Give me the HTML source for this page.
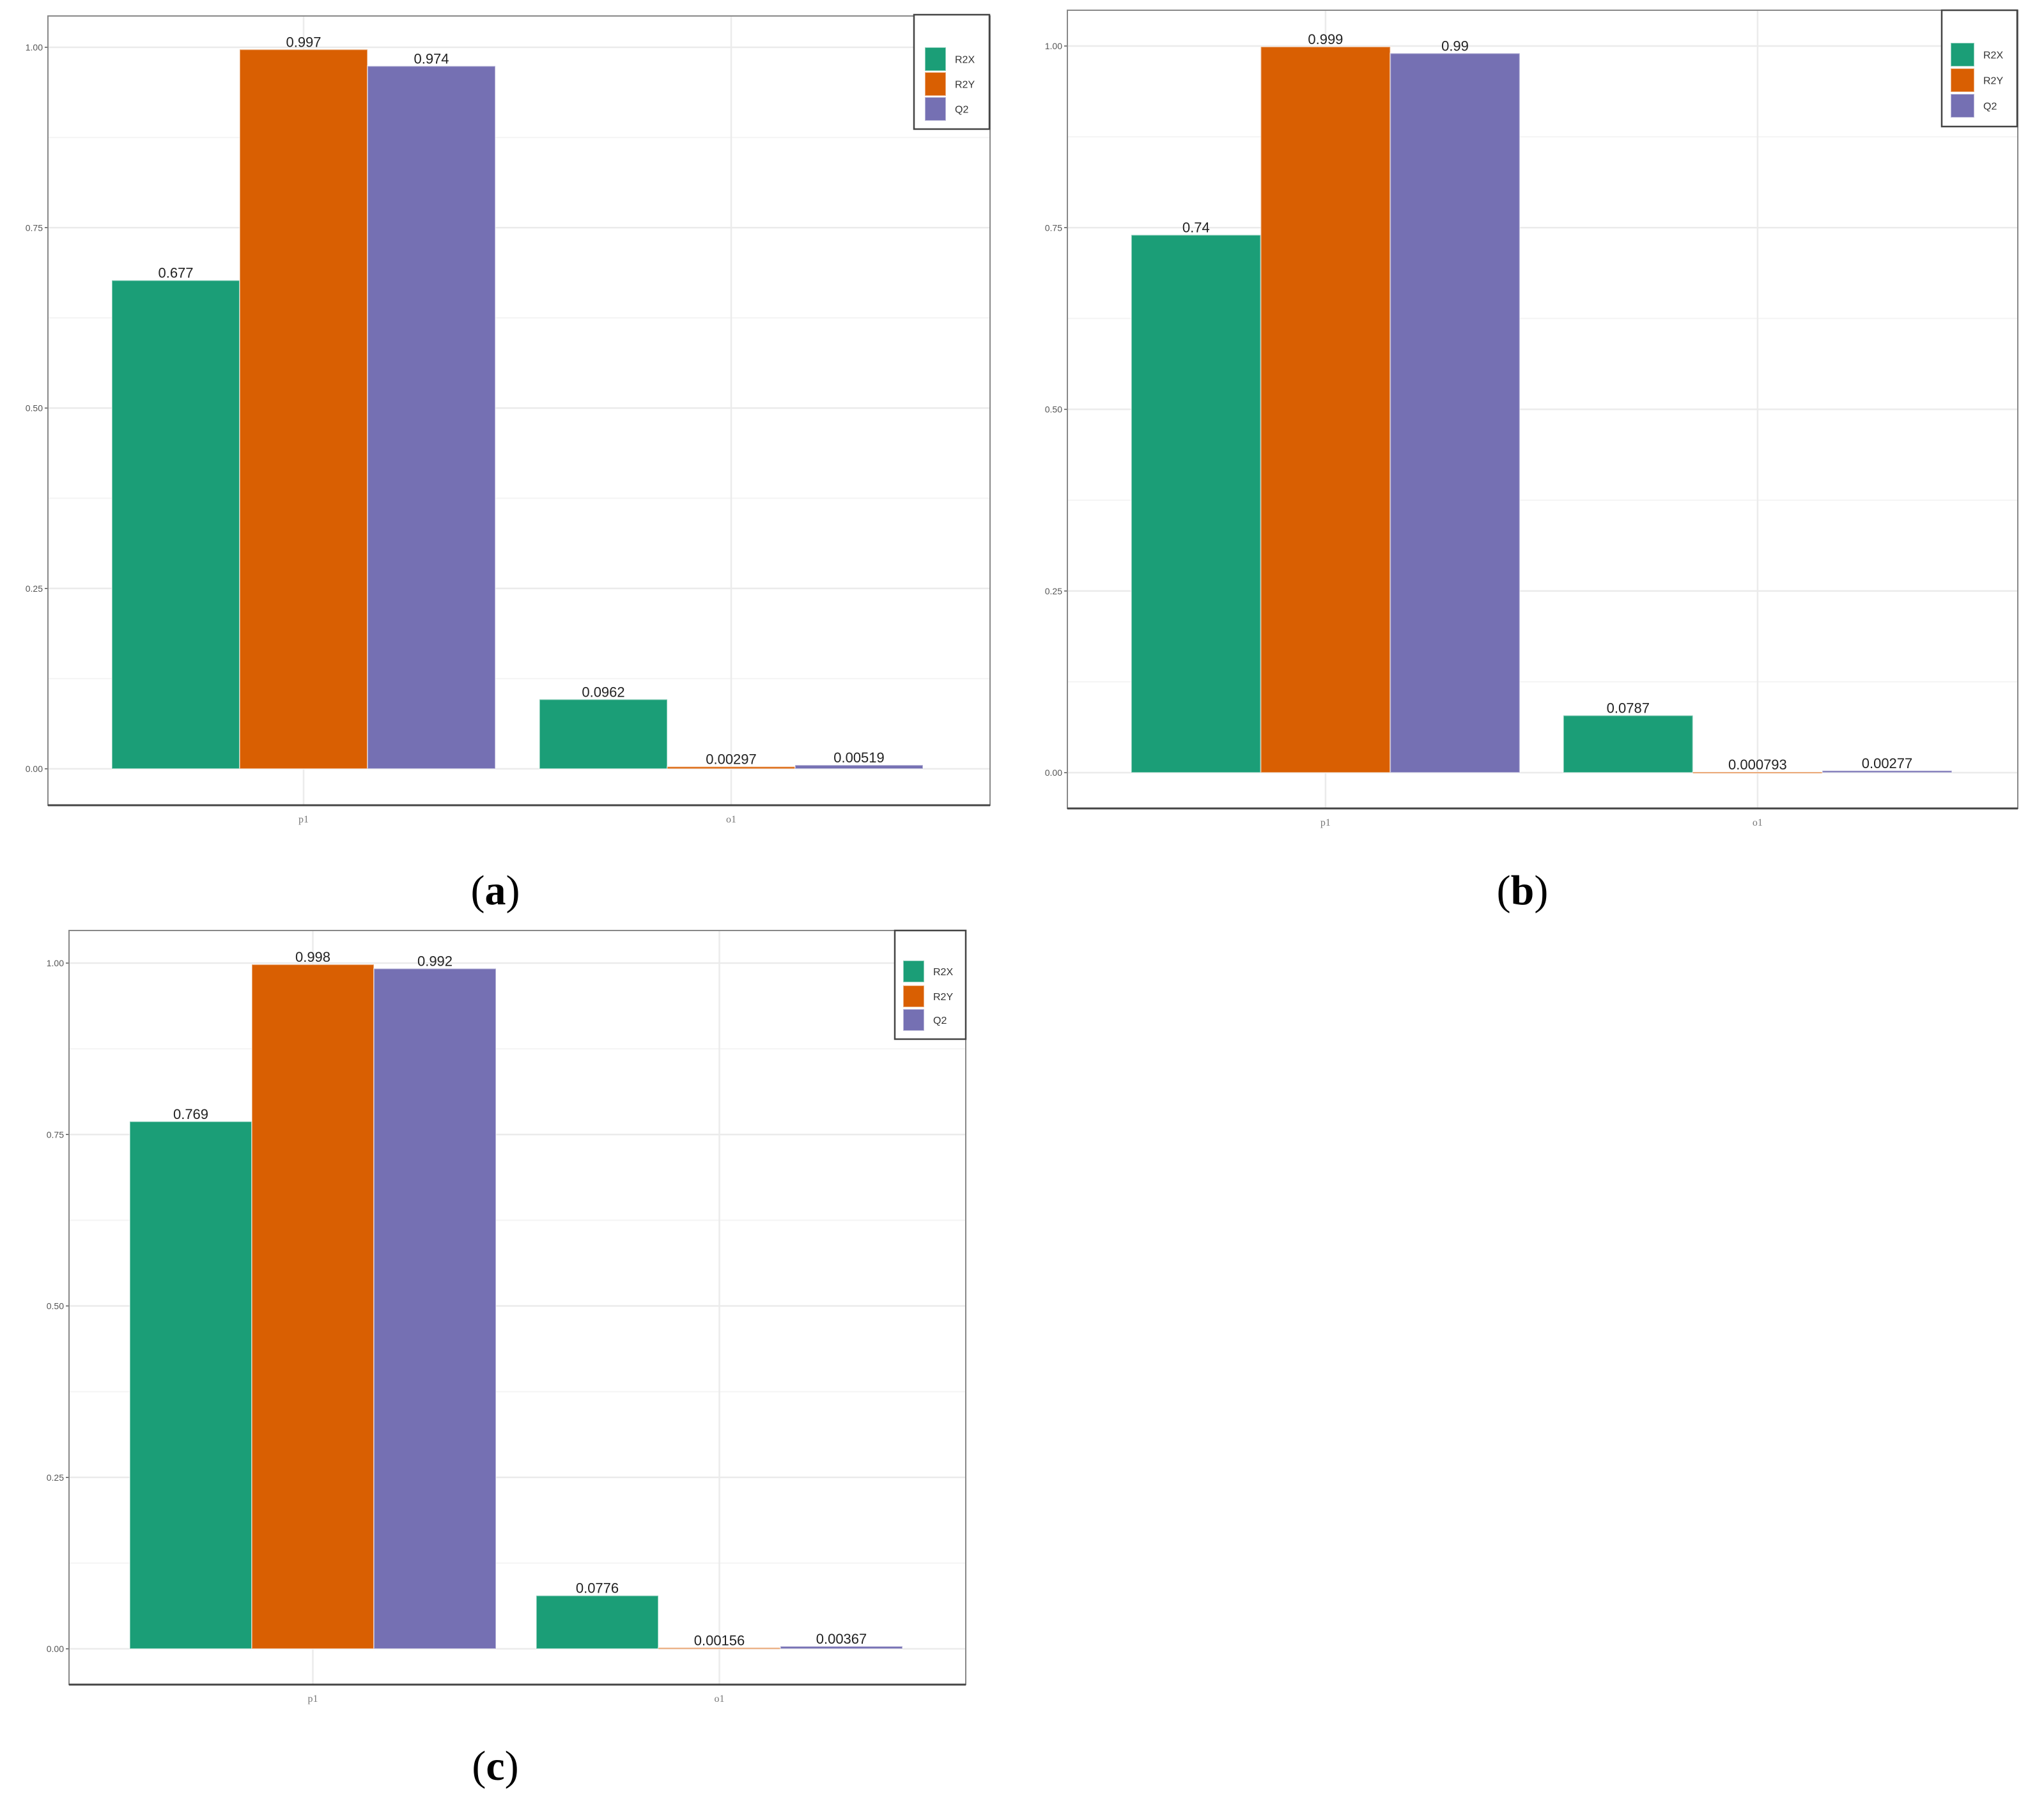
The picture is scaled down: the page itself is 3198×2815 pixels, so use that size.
<!DOCTYPE html>
<html><head><meta charset="utf-8"><style>
html,body{margin:0;padding:0;background:#fff;}
svg{display:block;}
</style></head><body>
<svg id="fig" width="3198" height="2815" viewBox="0 0 3198 2815" xmlns="http://www.w3.org/2000/svg"></svg>
<script>
const categories = ["p1", "o1"];
const seriesNames = ["R2X", "R2Y", "Q2"];
const seriesColors = ["#1b9e77", "#d95f02", "#7570b3"];
const yTicks = [0, 0.25, 0.5, 0.75, 1.0];
const yTickLabels = ["0.00", "0.25", "0.50", "0.75", "1.00"];
// values per panel: [series][category]
const panelAR2X = [0.677, 0.0962];
const panelAR2Y = [0.997, 0.00297];
const panelAQ2 = [0.974, 0.00519];
const panelALabels = [["0.677","0.0962"],["0.997","0.00297"],["0.974","0.00519"]];
const panelBR2X = [0.74, 0.0787];
const panelBR2Y = [0.999, 0.000793];
const panelBQ2 = [0.99, 0.00277];
const panelBLabels = [["0.74","0.0787"],["0.999","0.000793"],["0.99","0.00277"]];
const panelCR2X = [0.769, 0.0776];
const panelCR2Y = [0.998, 0.00156];
const panelCQ2 = [0.992, 0.00367];
const panelCLabels = [["0.769","0.0776"],["0.998","0.00156"],["0.992","0.00367"]];
const captions = ["(a)", "(b)", "(c)"];

const NS = "http://www.w3.org/2000/svg";
const svg = document.getElementById("fig");
function mk(tag, attrs, parent, text) {
  const e = document.createElementNS(NS, tag);
  for (const k in attrs) e.setAttribute(k, attrs[k]);
  if (text !== undefined) e.textContent = text;
  (parent || svg).appendChild(e);
  return e;
}

const layouts = [
  {name:"a", L:75, R:1549, T:25, B:1260, y1:74, y0:1203, x0:175, groupStep:669, barW:200,
   leg:{x:1430,y:23,w:118,h:179,kx:1447,kw:33,ky:[74,113,152],kh:37}, lblY:1282, cap:{x:775,y:1415}},
  {name:"b", L:1670, R:3157, T:16, B:1265, y1:72, y0:1209, x0:1770, groupStep:676, barW:202.6,
   leg:{x:3038,y:16,w:118,h:182,kx:3052,kw:37,ky:[67,107,147],kh:37}, lblY:1287, cap:{x:2382,y:1415}},
  {name:"c", L:108, R:1511, T:1456, B:2636, y1:1507, y0:2580, x0:203, groupStep:636, barW:191,
   leg:{x:1400,y:1456,w:111,h:170,kx:1413,kw:33,ky:[1503,1542,1579],kh:34}, lblY:2658, cap:{x:775,y:2785}}
];
const panelData = [
  {vals:[panelAR2X, panelAR2Y, panelAQ2], labels:panelALabels},
  {vals:[panelBR2X, panelBR2Y, panelBQ2], labels:panelBLabels},
  {vals:[panelCR2X, panelCR2Y, panelCQ2], labels:panelCLabels}
];

layouts.forEach((lay, pi) => {
  const g = mk("g", {});
  
  
  const yScale = v => lay.y0 + (lay.y1 - lay.y0) * v;
  const groupX = ci => lay.x0 + ci * lay.groupStep;
  const catCenter = ci => groupX(ci) + lay.barW * seriesNames.length / 2;

  for (let i = 0; i < yTicks.length - 1; i++) {
    const v = (yTicks[i] + yTicks[i+1]) / 2;
    const l = mk("line", {x1:lay.L, x2:lay.R, y1:yScale(v), y2:yScale(v), stroke:"#f4f4f4", "stroke-width":2}, g);
    
    
  }
  yTicks.forEach((v, i) => {
    const y = yScale(v);
    const l = mk("line", {x1:lay.L, x2:lay.R, y1:y, y2:y, stroke:"#ebebeb", "stroke-width":2.5}, g);
    
    
    const tk = mk("line", {x1:lay.L-5, x2:lay.L, y1:y, y2:y, stroke:"#555", "stroke-width":1.5}, g);
    
    
    const t = mk("text", {x:lay.L-8, y:y+5, "text-anchor":"end", "font-family":"Liberation Sans, sans-serif", "font-size":14, fill:"#555"}, g, yTickLabels[i]);
    
    
  });
  categories.forEach((c, ci) => {
    const x = catCenter(ci);
    const l = mk("line", {x1:x, x2:x, y1:lay.T, y2:lay.B, stroke:"#ebebeb", "stroke-width":2.5}, g);
    
    
    const t = mk("text", {x:x, y:lay.lblY+5, "text-anchor":"middle", "font-family":"Liberation Serif, serif", "font-size":16, fill:"#777"}, g, c);
    
    
  });
  const pd = panelData[pi];
  seriesNames.forEach((s, si) => {
    categories.forEach((c, ci) => {
      const v = pd.vals[si][ci];
      const x = groupX(ci) + si * lay.barW;
      const yt = yScale(v), yb = yScale(0);
      const r = mk("rect", {x:x, y:yt, width:lay.barW, height:Math.max(yb-yt, 2), fill:seriesColors[si], stroke:"rgba(255,255,255,0.45)", "stroke-width":2}, g);
      
      
      const t = mk("text", {x:x + lay.barW/2, y:yt - 4, "text-anchor":"middle", "font-family":"Liberation Sans, sans-serif", "font-size":22, fill:"#222"}, g, pd.labels[si][ci]);
      
      
    });
  });
  const bd = mk("rect", {x:lay.L, y:lay.T, width:lay.R-lay.L, height:lay.B-lay.T, fill:"none", stroke:"#888", "stroke-width":2}, g);
  
  
  const ax = mk("line", {x1:lay.L, x2:lay.R, y1:lay.B, y2:lay.B, stroke:"#444", "stroke-width":3}, g);
  
  
  const lg = mk("g", {}, g);
  
  
  const lb = mk("rect", {x:lay.leg.x, y:lay.leg.y, width:lay.leg.w, height:lay.leg.h, fill:"#fff", stroke:"#444", "stroke-width":2.5}, lg);
  
  
  seriesNames.forEach((s, si) => {
    const k = mk("rect", {x:lay.leg.kx, y:lay.leg.ky[si], width:lay.leg.kw, height:lay.leg.kh, fill:seriesColors[si], stroke:"rgba(255,255,255,0.5)", "stroke-width":2}, lg);
    
    
    const t = mk("text", {x:lay.leg.kx + lay.leg.kw + 14, y:lay.leg.ky[si] + lay.leg.kh/2 + 6, "font-family":"Liberation Sans, sans-serif", "font-size":16, fill:"#333"}, lg, s);
    
    
  });
  const cap = mk("text", {x:lay.cap.x, y:lay.cap.y, "text-anchor":"middle", "font-family":"Liberation Serif, serif", "font-size":66, fill:"#000"}, g);
  
  
  const c = captions[pi];
  mk("tspan", {}, cap, "(");
  mk("tspan", {"font-weight":"bold"}, cap, c.slice(1, -1));
  mk("tspan", {}, cap, ")");
});
</script>
</body></html>
